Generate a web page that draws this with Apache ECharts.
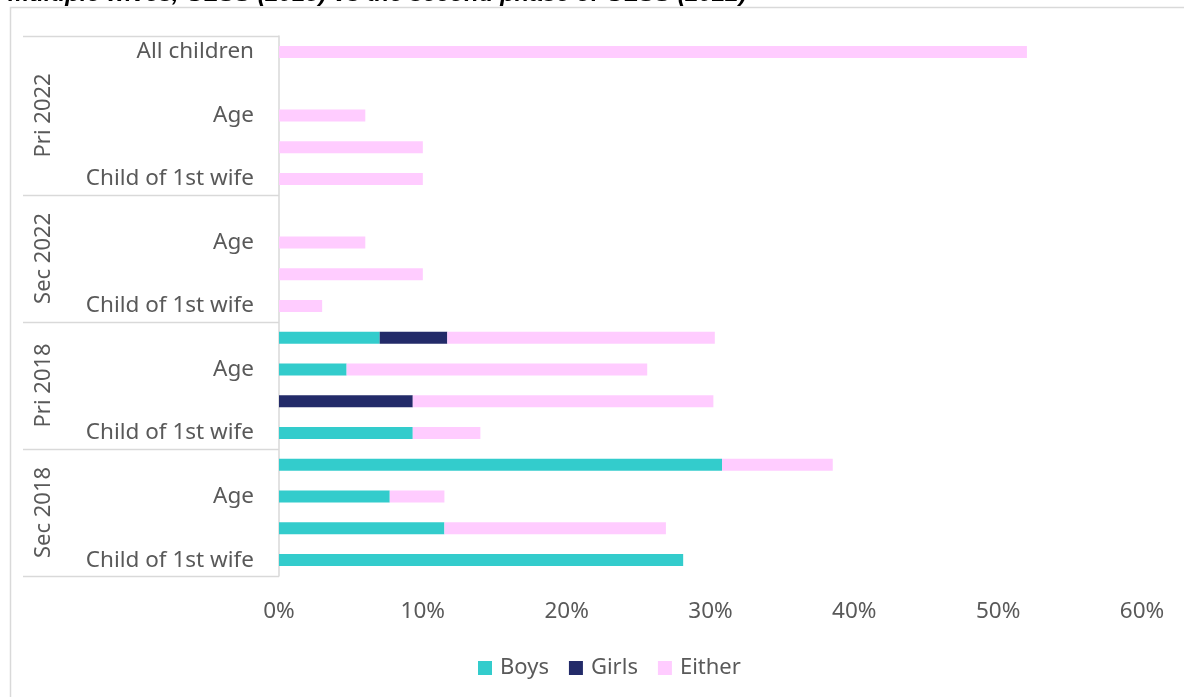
<!DOCTYPE html>
<html>
<head>
<meta charset="utf-8">
<script src="https://cdn.jsdelivr.net/npm/echarts@6/dist/echarts.min.js"></script>
<style>
  html, body { margin: 0; padding: 0; background: #ffffff; }
  #chart { width: 1184px; height: 697px; }
</style>
</head>
<body>
<div id="chart"></div>
<script>
// ---- Data (top-down order as shown in the chart) ----
const titleText = 'multiple wives, GLSS (2018) vs the second phase of GLSS (2022)';
const groups = ['Pri 2022', 'Sec 2022', 'Pri 2018', 'Sec 2018'];
const groupSizes = [5, 4, 4, 4];
const categories = [
  'All children', 'Gender', 'Age', 'Birth order', 'Child of 1st wife',
  'Gender', 'Age', 'Birth order', 'Child of 1st wife',
  'Gender', 'Age', 'Birth order', 'Child of 1st wife',
  'Gender', 'Age', 'Birth order', 'Child of 1st wife'
];
const seriesNames = ['Boys', 'Girls', 'Either'];
const boys = [null, null, null, null, null,
  null, null, null, null,
  7.0, 4.7, null, 9.3,
  30.8, 7.7, 11.5, 28.1];
const girls = [null, null, null, null, null,
  null, null, null, null,
  4.7, null, 9.3, null,
  null, null, null, null];
const either = [52.0, null, 6.0, 10.0, 10.0,
  null, 6.0, 10.0, 3.0,
  18.6, 20.9, 20.9, 4.7,
  7.7, 3.8, 15.4, null];
const xTicks = [0, 10, 20, 30, 40, 50, 60];

const colors = ['#33CCCC', '#232B69', '#FFCCFF'];
const FONT = 'Noto Sans';
const TXT = '#595959';
const LINE = '#D9D9D9';

const chart = echarts.init(document.getElementById('chart'), null, { renderer: 'canvas' });

const values = [boys, girls, either];
const option = {
  animation: false,
  backgroundColor: '#ffffff',
  textStyle: { fontFamily: FONT },
  grid: { left: 279, right: 42, top: 36, bottom: 121, containLabel: false },
  legend: {
    data: seriesNames,
    top: 652,
    left: 473,
    itemWidth: 14,
    itemHeight: 14,
    itemGap: 20,
    icon: 'rect',
    textStyle: { fontFamily: FONT, fontSize: 22, color: TXT, padding: [0, 0, 0, 3] }
  },
  xAxis: {
    type: 'value',
    min: xTicks[0],
    max: xTicks[xTicks.length - 1],
    interval: xTicks[1] - xTicks[0],
    axisLine: { show: false },
    axisTick: { show: false },
    splitLine: { show: false },
    axisLabel: {
      formatter: '{value}%',
      fontFamily: FONT, fontSize: 22.5, color: TXT, margin: 24
    }
  },
  yAxis: {
    type: 'category',
    inverse: true,
    data: categories,
    axisLine: { show: true, lineStyle: { color: LINE, width: 1.5 } },
    axisTick: { show: false },
    axisLabel: {
      interval: 1,
      fontFamily: FONT, fontSize: 22.5, color: TXT, margin: 25
    }
  },
  series: seriesNames.map((name, i) => ({
    name: name,
    type: 'bar',
    stack: 'total',
    barWidth: 12,
    itemStyle: { color: colors[i] },
    data: values[i]
  }))
};
chart.setOption(option);

// ---- Group frame and group labels, positioned via the axis scale ----
const p0 = chart.convertToPixel({ yAxisIndex: 0 }, 0);
const p1 = chart.convertToPixel({ yAxisIndex: 0 }, 1);
const band = p1 - p0;
const axisX = chart.convertToPixel({ xAxisIndex: 0 }, 0);
const edge = (b) => p0 + (b - 0.5) * band;

const graphics = [];
// outer border of the chart area
graphics.push({
  type: 'rect', silent: true,
  shape: { x: 10.5, y: 7.5, width: 1300, height: 800 },
  style: { fill: null, stroke: LINE, lineWidth: 1.5 }
});
// title, cut off by the top edge of the picture
graphics.push({
  type: 'text', silent: true, x: 8, y: 6,
  style: {
    text: titleText, fill: '#000000',
    font: 'italic bold 24px "Liberation Sans", Arial, sans-serif',
    align: 'left', verticalAlign: 'bottom'
  }
});
let start = 0;
const boundaries = [0];
groupSizes.forEach(s => { start += s; boundaries.push(start); });
boundaries.forEach(b => {
  const y = Math.round(edge(b)) + 0.5;
  graphics.push({
    type: 'line', silent: true,
    shape: { x1: 23, y1: y, x2: axisX, y2: y },
    style: { stroke: LINE, lineWidth: 1.5 }
  });
});
groups.forEach((g, i) => {
  const yc = (edge(boundaries[i]) + edge(boundaries[i + 1])) / 2;
  graphics.push({
    type: 'text', silent: true, x: 44, y: yc, rotation: Math.PI / 2,
    style: {
      text: g, fill: TXT, font: '22px "' + FONT + '"',
      align: 'center', verticalAlign: 'middle'
    }
  });
});
chart.setOption({ graphic: graphics });
</script>
</body>
</html>
